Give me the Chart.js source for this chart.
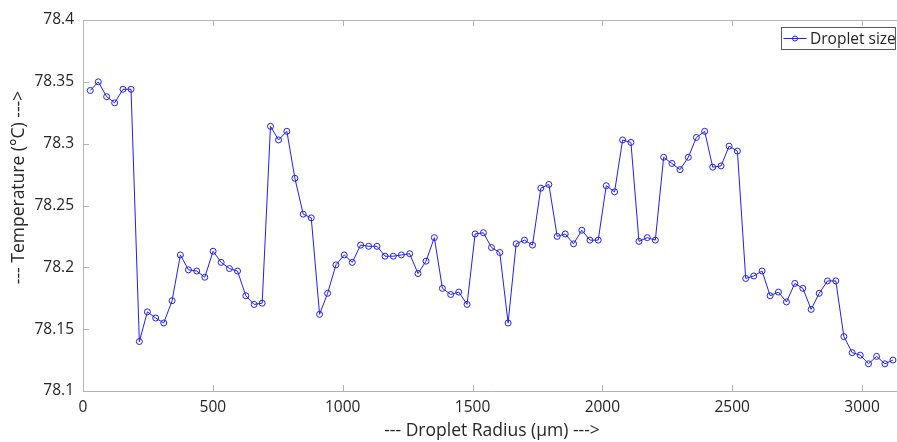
<!DOCTYPE html>
<html>
<head>
<meta charset="utf-8">
<script src="https://cdn.jsdelivr.net/npm/chart.js@4"></script>
<style>
  html, body { margin: 0; padding: 0; background: #fff; overflow: hidden; }
  #wrap { width: 897px; height: 442px; overflow: hidden; }
  #box { width: 906px; height: 442px; }
</style>
</head>
<body>
<div id="wrap"><div id="box"><canvas id="chart"></canvas></div></div>
<script>
// droplet radius (µm), one sample every ~31.5 µm
let radius = [28, 59, 91, 122, 154, 185, 217, 248, 280, 311,
  343, 375, 406, 438, 469, 501, 532, 564, 595, 627,
  659, 690, 722, 753, 785, 816, 848, 879, 911, 942,
  974, 1006, 1037, 1069, 1100, 1132, 1163, 1195, 1226, 1258,
  1290, 1321, 1353, 1384, 1416, 1447, 1479, 1510, 1542, 1573,
  1605, 1637, 1668, 1700, 1731, 1763, 1794, 1826, 1857, 1889,
  1921, 1952, 1984, 2015, 2047, 2078, 2110, 2141, 2173, 2204,
  2236, 2268, 2299, 2331, 2362, 2394, 2425, 2457, 2488, 2520,
  2552, 2583, 2615, 2646, 2678, 2709, 2741, 2772, 2804, 2835,
  2867, 2899, 2930, 2962, 2993, 3025, 3056, 3088, 3119];

// temperature (°C)
let temperature = [78.343, 78.350, 78.338, 78.333, 78.344, 78.344, 78.140, 78.164, 78.159, 78.155,
  78.173, 78.210, 78.198, 78.197, 78.192, 78.213, 78.204, 78.199, 78.197, 78.177,
  78.170, 78.171, 78.314, 78.303, 78.310, 78.272, 78.243, 78.240, 78.162, 78.179,
  78.202, 78.210, 78.204, 78.218, 78.217, 78.217, 78.209, 78.209, 78.210, 78.211,
  78.195, 78.205, 78.224, 78.183, 78.178, 78.180, 78.170, 78.227, 78.228, 78.216,
  78.212, 78.155, 78.219, 78.222, 78.218, 78.264, 78.267, 78.225, 78.227, 78.219,
  78.230, 78.222, 78.222, 78.266, 78.261, 78.303, 78.301, 78.221, 78.224, 78.222,
  78.289, 78.284, 78.279, 78.289, 78.305, 78.310, 78.281, 78.282, 78.298, 78.294,
  78.191, 78.193, 78.197, 78.177, 78.180, 78.172, 78.187, 78.183, 78.166, 78.179,
  78.189, 78.189, 78.144, 78.131, 78.129, 78.122, 78.128, 78.122, 78.125];

let xTicks = [0, 500, 1000, 1500, 2000, 2500, 3000];
let yTicks = [78.1, 78.15, 78.2, 78.25, 78.3, 78.35, 78.4];

let seriesName = "Droplet size";
let xTitle = "--- Droplet Radius (µm) --->";
let yTitle = "--- Temperature (°C) --->";

let lineColor = "#1f1ff5";
let axisColor = "#b4b4b4";
let textColor = "#262626";
let font = "'Open Sans', 'Noto Sans', sans-serif";

let points = radius.map((r, i) => ({ x: r, y: temperature[i] }));

// matlab style box: top line + inward ticks, y label, legend inside the axes
const matlabBox = {
  id: "matlabBox",
  afterDraw(chart) {
    let ctx = chart.ctx;
    let area = chart.chartArea;
    let xs = chart.scales.x;
    let ys = chart.scales.y;
    let tl = 6;

    ctx.save();
    ctx.strokeStyle = axisColor;
    ctx.lineWidth = 1;
    ctx.beginPath();
    ctx.moveTo(area.left, area.top + 0.5);
    ctx.lineTo(area.right, area.top + 0.5);
    xs.ticks.forEach((t, i) => {
      let px = Math.round(xs.getPixelForTick(i)) + 0.5;
      ctx.moveTo(px, area.bottom);
      ctx.lineTo(px, area.bottom - tl);
      ctx.moveTo(px, area.top);
      ctx.lineTo(px, area.top + tl);
    });
    ys.ticks.forEach((t, i) => {
      let py = Math.round(ys.getPixelForTick(i)) + 0.5;
      ctx.moveTo(area.left, py);
      ctx.lineTo(area.left + tl, py);
    });
    ctx.stroke();

    // y label (sits a bit above the axes middle in the original)
    ctx.save();
    ctx.translate(19, (area.top + area.bottom) / 2 - 18);
    ctx.rotate(-Math.PI / 2);
    ctx.fillStyle = textColor;
    ctx.font = "17.5px " + font;
    ctx.textAlign = "center";
    ctx.textBaseline = "middle";
    ctx.fillText(yTitle, 0, 0);
    ctx.restore();

    // legend
    let bw = 114;
    let bx = Math.round(area.right) - 119.5;
    let by = 27.5;
    let bh = 22;
    ctx.fillStyle = "#fff";
    ctx.fillRect(bx, by, bw, bh);
    ctx.strokeStyle = "#5a5a5a";
    ctx.strokeRect(bx, by, bw, bh);
    let cy = by + bh / 2;
    ctx.strokeStyle = lineColor;
    ctx.beginPath();
    ctx.moveTo(bx + 2, cy);
    ctx.lineTo(bx + 25, cy);
    ctx.stroke();
    ctx.beginPath();
    ctx.arc(bx + 13.5, cy, 2.5, 0, Math.PI * 2);
    ctx.stroke();
    ctx.fillStyle = textColor;
    ctx.font = "15.5px " + font;
    ctx.textBaseline = "middle";
    ctx.fillText(seriesName, bx + 28.5, cy + 1);
    ctx.restore();
  },
};

new Chart(document.getElementById("chart"), {
  type: "line",
  data: {
    datasets: [
      {
        label: seriesName,
        data: points,
        borderColor: lineColor,
        borderWidth: 1,
        pointStyle: "circle",
        pointRadius: 3,
        pointBorderWidth: 1,
        pointBorderColor: lineColor,
        pointBackgroundColor: "rgba(0,0,0,0)",
        tension: 0,
      },
    ],
  },
  options: {
    responsive: true,
    maintainAspectRatio: false,
    animation: false,
    devicePixelRatio: 1,
    layout: { padding: { top: 20, left: 0, right: 0, bottom: 0 } },
    plugins: {
      legend: { display: false },
      tooltip: { enabled: false },
    },
    scales: {
      x: {
        type: "linear",
        min: 0,
        max: 3150,
        afterBuildTicks: (scale) => {
          scale.ticks = xTicks.map((v) => ({ value: v }));
        },
        ticks: {
          color: textColor,
          font: { family: font, size: 15.5 },
          padding: 7,
          maxRotation: 0,
          autoSkip: false,
          callback: (v) => String(v),
        },
        grid: { drawOnChartArea: false, drawTicks: false },
        border: { color: axisColor },
        title: {
          display: true,
          text: xTitle,
          color: textColor,
          font: { family: font, size: 17.5 },
          padding: { top: 0, bottom: 0 },
        },
        afterFit(scale) {
          scale.height = 51;
          scale.paddingLeft = 0;
          scale.paddingRight = 0;
        },
      },
      y: {
        min: 78.1,
        max: 78.4,
        afterBuildTicks: (scale) => {
          scale.ticks = yTicks.map((v) => ({ value: v }));
        },
        ticks: {
          color: textColor,
          font: { family: font, size: 15.5 },
          padding: 9,
          autoSkip: false,
          callback: (v) => String(+v.toFixed(2)),
        },
        grid: { drawOnChartArea: false, drawTicks: false },
        border: { color: axisColor },
        title: { display: false },
        afterFit(scale) {
          scale.width = 83;
          scale.paddingTop = 0;
          scale.paddingBottom = 0;
        },
      },
    },
  },
  plugins: [matlabBox],
});
</script>
</body>
</html>
